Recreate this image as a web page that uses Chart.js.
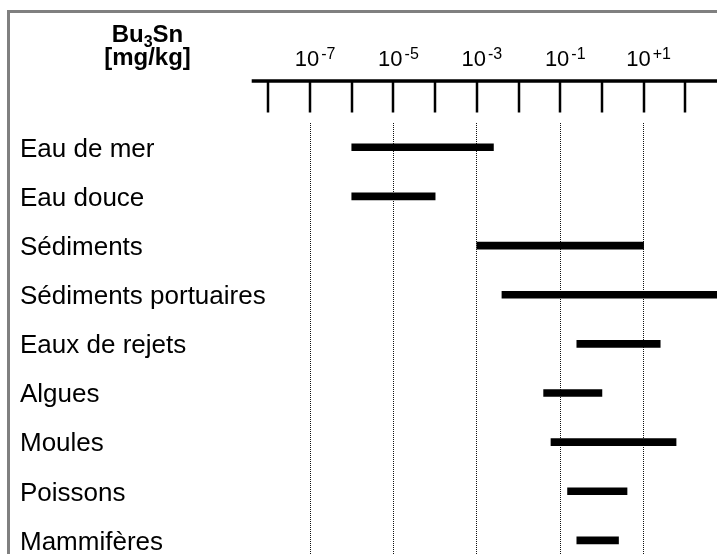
<!DOCTYPE html>
<html>
<head>
<meta charset="utf-8">
<script src="https://cdn.jsdelivr.net/npm/chart.js@4"></script>
<style>
  html, body { margin: 0; padding: 0; background: #fff; overflow: hidden; }
  #frame { position: absolute; left: 7px; top: 10px; width: 800px; height: 700px; border: 3px solid #808080; }
  #wrap { position: absolute; left: 0; top: 0; width: 727px; height: 565px; }
</style>
</head>
<body>
<div id="frame"></div>
<div id="wrap"><canvas id="chartBu3Sn"></canvas></div>
<script>
// concentration ranges of Bu3Sn, mg/kg
const categories = ['Eau de mer', 'Eau douce', 'Sédiments', 'Sédiments portuaires', 'Eaux de rejets',
                    'Algues', 'Moules', 'Poissons', 'Mammifères'];
const lows  = [1e-6, 1e-6, 1e-3, 4e-3, 0.25, 0.04, 0.06, 0.15, 0.25];
const highs = [2.5e-3, 1e-4, 10, 600, 25, 1, 60, 4, 2.5];

// decades on the axis, and the ones that carry a label
const tickExponents = [-8, -7, -6, -5, -4, -3, -2, -1, 0, 1, 2, 3];
const labelExponents = [-7, -5, -3, -1, 1];
const labelSup = ['-7', '-5', '-3', '-1', '+1'];

const FONT = '"Liberation Sans", Arial, sans-serif';

const axisDecor = {
    id: 'axisDecor',
    afterDraw(chart) {
        const ctx = chart.ctx;
        const x = chart.scales.x;
        const y = chart.scales.y;
        const area = chart.chartArea;
        ctx.save();
        // thick axis line
        ctx.strokeStyle = '#000';
        ctx.lineWidth = 3.5;
        ctx.beginPath();
        ctx.moveTo(area.left, 81);
        ctx.lineTo(chart.width, 81);
        ctx.stroke();
        // tick marks hanging down
        ctx.lineWidth = 2.5;
        tickExponents.forEach(e => {
            const px = Math.round(x.getPixelForValue(10 ** e));
            ctx.beginPath();
            ctx.moveTo(px, 81);
            ctx.lineTo(px, 112.5);
            ctx.stroke();
        });
        // labels 10^n
        ctx.fillStyle = '#000';
        ctx.textBaseline = 'alphabetic';
        ctx.textAlign = 'left';
        labelExponents.forEach((e, i) => {
            const px = x.getPixelForValue(10 ** e);
            ctx.font = '22px ' + FONT;
            const w1 = ctx.measureText('10').width;
            ctx.font = '16px ' + FONT;
            const w2 = ctx.measureText(labelSup[i]).width;
            const start = px - (w1 + w2 + 2) / 2 + 5;
            ctx.font = '22px ' + FONT;
            ctx.fillText('10', start, 66);
            ctx.font = '16px ' + FONT;
            ctx.fillText(labelSup[i], start + w1 + 2, 58.5);
        });
        // category labels, placed on the category scale
        ctx.font = '26px ' + FONT;
        categories.forEach((c, i) => {
            ctx.fillText(c, 20, y.getPixelForValue(i) + 9.3);
        });
        // header Bu3Sn [mg/kg]
        const cx = 147.5;
        ctx.font = 'bold 24px ' + FONT;
        const wBu = ctx.measureText('Bu').width;
        const wSn = ctx.measureText('Sn').width;
        ctx.font = 'bold 16px ' + FONT;
        const w3 = ctx.measureText('3').width;
        let sx = cx - (wBu + w3 + wSn) / 2;
        ctx.font = 'bold 24px ' + FONT;
        ctx.fillText('Bu', sx, 41.5);
        ctx.font = 'bold 16px ' + FONT;
        ctx.fillText('3', sx + wBu, 46.5);
        ctx.font = 'bold 24px ' + FONT;
        ctx.fillText('Sn', sx + wBu + w3, 41.5);
        ctx.textAlign = 'center';
        ctx.fillText('[mg/kg]', cx, 65);
        ctx.restore();
    }
};

new Chart("chartBu3Sn", {
    type: 'bar',
    data: {
        labels: categories,
        datasets: [{
            data: categories.map((c, i) => [lows[i], highs[i]]),
            backgroundColor: '#000',
            borderWidth: 0,
            borderSkipped: false,
            barThickness: 7
        }]
    },
    options: {
        indexAxis: 'y',
        responsive: true,
        maintainAspectRatio: false,
        animation: false,
        layout: { padding: { left: 20, top: 0, right: 0, bottom: 0 } },
        plugins: { legend: { display: false }, tooltip: { enabled: false } },
        scales: {
            x: {
                type: 'logarithmic',
                position: 'top',
                min: 10 ** -8.4,
                max: 1000,
                afterBuildTicks: s => { s.ticks = tickExponents.map(e => ({ value: 10 ** e })); },
                afterFit: s => { s.height = 122.7; },
                ticks: { display: false },
                border: { display: false, dash: [1, 1] },
                grid: {
                    drawTicks: false,
                    lineWidth: 1,
                    color: c => {
                        const e = Math.round(Math.log10(c.tick.value));
                        return Math.abs(e) % 2 === 1 ? '#111' : 'rgba(0,0,0,0)';
                    }
                }
            },
            y: {
                type: 'category',
                afterFit: s => { s.width = 231.7; },
                grid: { display: false },
                border: { display: false },
                ticks: { display: false }
            }
        }
    },
    plugins: [axisDecor]
});
</script>
</body>
</html>
